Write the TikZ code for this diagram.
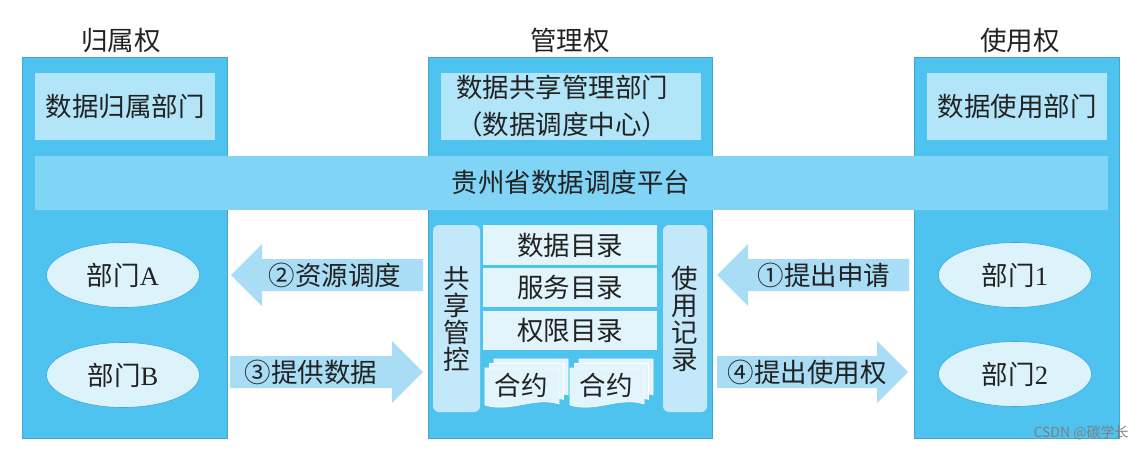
\documentclass[tikz,border=0pt]{standalone}
\usepackage{fontspec}
\setmainfont{Noto Sans CJK SC}
\newfontfamily\latinserif{Liberation Serif}
\usepackage{tikz}
\usetikzlibrary{shapes.geometric}
\definecolor{colblue}{HTML}{4FC3F0}
\definecolor{topblue}{HTML}{B3E5F9}
\definecolor{barblue}{HTML}{80D4F6}
\definecolor{deptfill}{HTML}{DDF3FC}
\definecolor{deptline}{HTML}{3AA9DA}
\definecolor{arrowblue}{HTML}{A8DDF5}
\definecolor{panelblue}{HTML}{C2E8F9}
\definecolor{catfill}{HTML}{E2F4FC}
\definecolor{inktext}{HTML}{222222}

\tikzset{
  column/.style={draw=colblue!85!black, line width=0.6pt, fill=colblue, minimum width=205pt, minimum height=381pt, inner sep=0pt},
  topbox/.style={fill=topblue, minimum height=67pt, inner sep=0pt, text=inktext},
  dept/.style={ellipse, draw=deptline, line width=0.6pt, fill=deptfill, minimum width=153pt, minimum height=65pt, inner sep=0pt, text=inktext},
  panel/.style={fill=panelblue, rounded corners=6pt, minimum height=187pt, inner sep=0pt},
  catbox/.style={fill=catfill, minimum width=174pt, inner sep=0pt, text=inktext},
  sheet/.style={fill=catfill, draw=white, line width=0.6pt},
  label/.style={text=inktext, inner sep=0pt},
}

\begin{document}
\begin{tikzpicture}[x=1pt, y=-1pt, font=\fontsize{26.5}{27}\selectfont]
    \useasboundingbox (0,0) rectangle (1147,450);
    % Columns
    \node[column] (own) at (124.5,247.5) {};
    \node[column, minimum width=284pt] (mgmt) at (570,247.5) {};
    \node[column] (use) at (1016.5,247.5) {};
    % Titles
    \node[label] (ownT) at (121,40) {归属权};
    \node[label] (mgmtT) at (570,40) {管理权};
    \node[label] (useT) at (1020,40) {使用权};
    % Top boxes
    \node[topbox, minimum width=180pt] (ownTop) at (125,106.5) {数据归属部门};
    \node[topbox, minimum width=260pt] (mgmtTop) at (571,106.5) {};
    \node[label, align=center, font=\fontsize{26.5}{37}\selectfont] (mgmtTxt) at (562,106.5) {数据共享管理部门\\（数据调度中心）};
    \node[topbox, minimum width=180pt] (useTop) at (1017,106.5) {数据使用部门};
    % Platform bar
    \node[fill=barblue, draw=colblue!70, line width=0.4pt, minimum width=1072pt, minimum height=53pt, inner sep=0pt, text=inktext] (bar) at (571,182.5) {贵州省数据调度平台};
    % Departments
    \node[dept] (deptA) at (123,275) {部门{\latinserif A}};
    \node[dept] (deptB) at (123,375) {部门{\latinserif B}};
    \node[dept] (dept1) at (1015,275) {部门{\latinserif 1}};
    \node[dept] (dept2) at (1015,374) {部门{\latinserif 2}};
    % Management panels
    \node[panel, minimum width=47pt] (share) at (456.5,318.5) {};
    \node[label, align=center] at (share) {共\\享\\管\\控};
    \node[panel, minimum width=44pt] (record) at (685,318.5) {};
    \node[label, align=center] at (record) {使\\用\\记\\录};
    \node[catbox, minimum height=40pt] (dataCat) at (570,245) {数据目录};
    \node[catbox, minimum height=39pt] (servCat) at (570,287.5) {服务目录};
    \node[catbox, minimum height=39pt] (authCat) at (570,330.5) {权限目录};
    % Contracts
    \foreach \x in {485,570} {
        \foreach \d in {9,4.5,0}
            \draw[sheet] (\x+\d,368-\d) -- (\x+\d+74,368-\d) -- (\x+\d+74,404-\d)
                .. controls (\x+\d+50,396-\d) and (\x+\d+25,413-\d) .. (\x+\d,405-\d) -- cycle;
    }
    \node[label] (contractA) at (521,385) {合约};
    \node[label] (contractB) at (606,385) {合约};
    % Block arrows
    \foreach \tip/\base/\tail/\yc in {231/262/423/275, 423/392/230/372, 717/748/909/275, 908/877/717/372}
        \fill[arrowblue] (\tail,\yc-16) -- (\base,\yc-16) -- (\base,\yc-31) -- (\tip,\yc)
            -- (\base,\yc+31) -- (\base,\yc+16) -- (\tail,\yc+16) -- cycle;
    \node[label] (step2) at (335,275) {②资源调度};
    \node[label] (step3) at (311,372) {③提供数据};
    \node[label] (step1) at (824,275) {①提出申请};
    \node[label] (step4) at (807,372) {④提出使用权};
    % Watermark
    \node[text=black!50, inner sep=0pt, font=\fontsize{14}{16}\selectfont] (mark) at (1081,433) {CSDN @碳学长};
\end{tikzpicture}
\end{document}
